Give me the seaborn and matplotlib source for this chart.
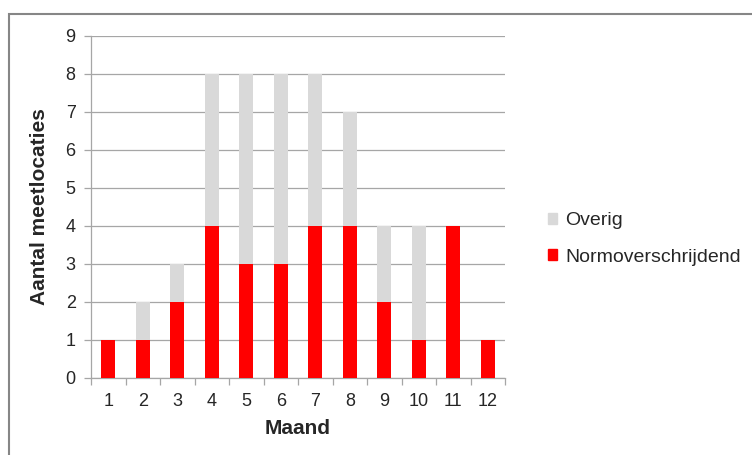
import matplotlib
matplotlib.use("Agg")
import matplotlib.pyplot as plt
import seaborn as sns
import pandas as pd
from matplotlib.patches import Patch, Rectangle

# Data
months = [str(m) for m in range(1, 13)]
normoverschrijdend = [1, 1, 2, 4, 3, 3, 4, 4, 2, 1, 4, 1]
overig = [0, 1, 1, 4, 5, 5, 4, 3, 2, 3, 0, 0]

df = pd.DataFrame({"Maand": months, "Normoverschrijdend": normoverschrijdend, "Overig": overig})
df["Totaal"] = df["Normoverschrijdend"] + df["Overig"]

sns.set_style("white")
plt.rcParams["font.family"] = ["Liberation Sans", "DejaVu Sans"]

fig = plt.figure(figsize=(7.52, 4.55), dpi=100)
# plot area: x 91..505 px, y 36..378 px
ax = fig.add_axes([91 / 752, 77 / 455, 414 / 752, 342 / 455])

red = "#ff0000"
grey = "#d9d9d9"

sns.barplot(data=df, x="Maand", y="Totaal", color=grey, width=0.41, saturation=1,
            linewidth=0, ax=ax, zorder=2)
sns.barplot(data=df, x="Maand", y="Normoverschrijdend", color=red, width=0.41, saturation=1,
            linewidth=0, ax=ax, zorder=3)

ax.set_ylim(0, 9)
ax.set_xlim(-0.5, 11.5)
ax.set_yticks(range(0, 10))
ax.yaxis.grid(True, color="#a6a6a6", linewidth=0.9, zorder=0)
ax.set_axisbelow(True)
for s in ["top", "right"]:
    ax.spines[s].set_visible(False)
for s in ["left", "bottom"]:
    ax.spines[s].set_color("#a6a6a6")
    ax.spines[s].set_linewidth(0.9)

ax.tick_params(axis="y", which="major", length=5, width=0.9, color="#a6a6a6", labelsize=13, left=True, pad=6)
ax.tick_params(axis="x", which="major", length=0, labelsize=13, pad=11)
ax.set_xticks([i + 0.5 for i in range(-1, 12)], minor=True)
ax.tick_params(axis="x", which="minor", length=5, width=0.9, color="#a6a6a6", bottom=True)

ax.set_xlabel("Maand", fontsize=15, fontweight="bold", labelpad=6)
ax.set_ylabel("Aantal meetlocaties", fontsize=15, fontweight="bold", labelpad=12)

handles = [Patch(color=grey, label="Overig"), Patch(color=red, label="Normoverschrijdend")]
fig.legend(handles=handles, loc="center left", bbox_to_anchor=(538 / 752, 1 - 239 / 455), frameon=False,
           fontsize=14, handlelength=0.5, handleheight=0.5, labelspacing=1.0, handletextpad=0.4,
           borderpad=0)

# chart frame (only top and left edges visible in the image)
fig.patches.append(Rectangle((9 / 752, -0.1), 1.2, 1 - 14 / 455 + 0.1, transform=fig.transFigure,
                             fill=False, edgecolor="#868686", linewidth=1.5))

fig.savefig("out.png", dpi=100)
